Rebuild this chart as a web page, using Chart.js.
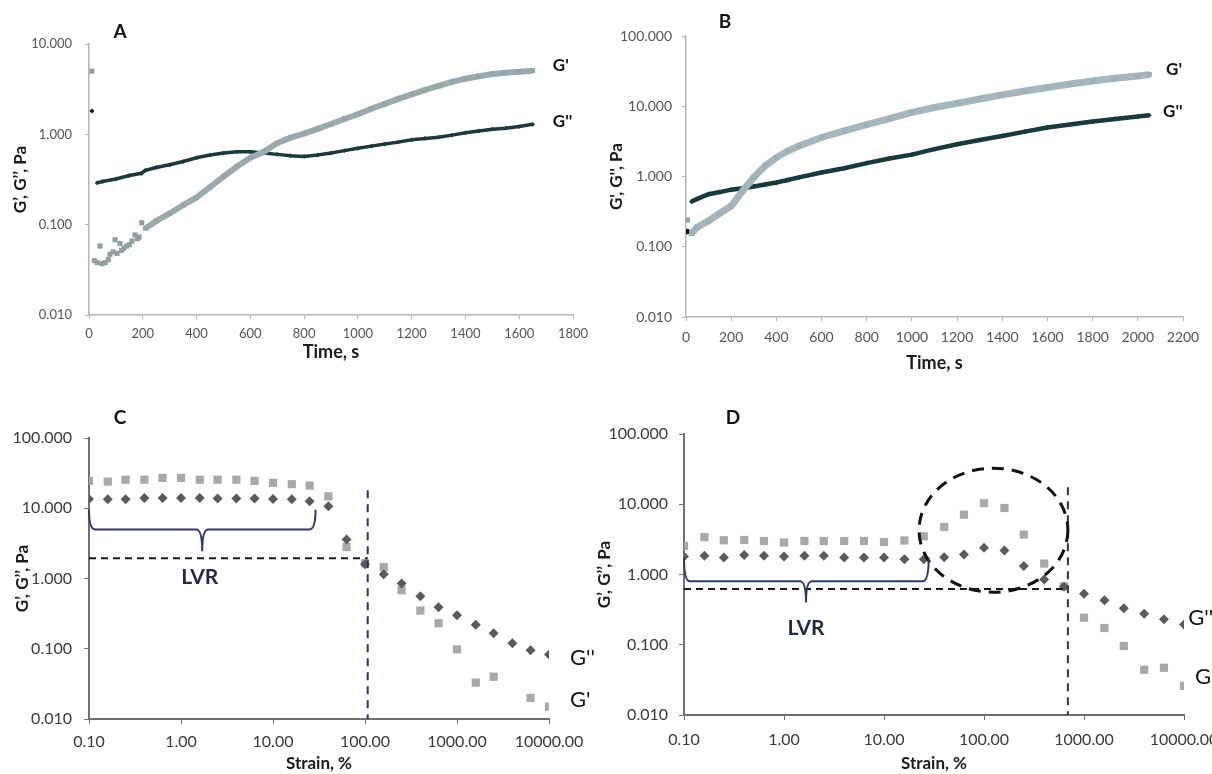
<!DOCTYPE html>
<html lang="en">
<head>
<meta charset="UTF-8">
<title>G', G'' rheology panels</title>
<script src="https://cdn.jsdelivr.net/npm/chart.js"></script>
<style>
  body { margin: 0; width: 1212px; height: 774px; overflow: hidden; background: #fff; position: relative; }
  .panel { position: absolute; height: 387px; }
</style>
</head>
<body>
<div class="panel" style="left:0;top:0;width:600px"><canvas id="chartA" width="600" height="387"></canvas></div>
<div class="panel" style="left:596px;top:0;width:616px"><canvas id="chartB" width="616" height="387"></canvas></div>
<div class="panel" style="left:0;top:387px;width:600px"><canvas id="chartC" width="600" height="387"></canvas></div>
<div class="panel" style="left:590px;top:387px;width:660px"><canvas id="chartD" width="660" height="387"></canvas></div>
<script>
// ---- panel A: time sweep ----
const timeA = [30, 50, 100, 150, 195, 210, 250, 300, 350, 400, 450, 500, 550, 600, 650, 700, 750, 800,
  850, 900, 950, 1000, 1050, 1100, 1150, 1200, 1250, 1300, 1350, 1400, 1450, 1500, 1550, 1600, 1650];
const lossA = [0.29, 0.30, 0.32, 0.35, 0.37, 0.40, 0.43, 0.46, 0.50, 0.55, 0.59, 0.62, 0.64, 0.64, 0.62, 0.60, 0.58, 0.57,
  0.59, 0.62, 0.66, 0.70, 0.74, 0.78, 0.82, 0.87, 0.90, 0.93, 0.98, 1.04, 1.09, 1.14, 1.17, 1.22, 1.29];
const timeStorA = [210, 250, 300, 350, 400, 450, 500, 550, 600, 650, 700, 750, 800, 850, 900, 950, 1000,
  1050, 1100, 1150, 1200, 1250, 1300, 1350, 1400, 1450, 1500, 1550, 1600, 1650];
const storA = [0.091, 0.11, 0.133, 0.165, 0.20, 0.26, 0.34, 0.44, 0.55, 0.64, 0.80, 0.92, 1.02, 1.15, 1.30, 1.48, 1.67,
  1.92, 2.17, 2.47, 2.77, 3.1, 3.43, 3.8, 4.13, 4.4, 4.65, 4.8, 4.93, 5.07];
const earlyTimeA = [11, 20, 30, 41, 48, 60, 72, 78, 90, 97, 104, 115, 121, 130, 140, 150, 160, 171, 180, 186, 196];
const earlyStorA = [5.0, 0.040, 0.038, 0.058, 0.037, 0.038, 0.041, 0.047, 0.050, 0.068, 0.048, 0.062, 0.052, 0.055,
  0.058, 0.060, 0.066, 0.077, 0.070, 0.073, 0.105];
const earlyTimeLossA = [11];
const earlyLossA = [1.81];
const yTicksA = [0.01, 0.1, 1, 10];

// ---- panel B: time sweep ----
const timeB = [25, 50, 100, 150, 200, 250, 300, 350, 400, 450, 500, 600, 700, 800, 900, 1000, 1100, 1200,
  1300, 1400, 1500, 1600, 1700, 1800, 1900, 2000, 2050];
const storB = [0.155, 0.19, 0.234, 0.30, 0.38, 0.62, 0.97, 1.42, 1.86, 2.3, 2.72, 3.59, 4.46, 5.49, 6.68, 8.2, 9.6, 11.0,
  12.7, 14.5, 16.5, 18.5, 20.7, 22.9, 25.0, 27.0, 28.2];
const lossB = [0.44, 0.48, 0.56, 0.60, 0.65, 0.68, 0.72, 0.77, 0.82, 0.89, 0.97, 1.14, 1.31, 1.55, 1.80, 2.05, 2.45, 2.88,
  3.3, 3.78, 4.35, 4.98, 5.5, 6.06, 6.6, 7.13, 7.45];
const earlyTimeB = [6];
const earlyStorB = [0.24];
const earlyLossB = [0.165];
const yTicksB = [0.01, 0.1, 1, 10, 100];

// ---- panels C and D: strain sweeps ----
const strain = [0.1, 0.16, 0.25, 0.4, 0.63, 1, 1.6, 2.5, 4, 6.3, 10, 16, 25, 40, 63, 100, 160, 250, 400, 630,
  1000, 1600, 2500, 4000, 6300, 10000];
const storC = [24.5, 24, 25.5, 25.5, 27, 27, 25.5, 25.5, 25.5, 24.5, 23, 22, 21, 14.8, 2.8, 1.65, 1.45, 0.68, 0.35, 0.23,
  0.098, 0.033, 0.040, null, 0.020, 0.015];
const lossC = [13.5, 13.4, 13.4, 14, 14, 14, 14, 13.8, 13.8, 13.8, 13.5, 13.4, 12.6, 10.7, 3.6, 1.6, 1.15, 0.85, 0.56, 0.39,
  0.30, 0.22, 0.166, 0.12, 0.095, 0.083];
const storD = [2.55, 3.4, 3.07, 3.1, 3.0, 2.85, 3.0, 3.0, 3.0, 3.0, 2.9, 3.05, 3.5, 4.75, 7.1, 10.4, 8.85, 3.7, 1.43, 0.68,
  0.243, 0.173, 0.096, 0.044, 0.047, 0.026];
const lossD = [1.8, 1.85, 1.75, 1.9, 1.85, 1.8, 1.85, 1.85, 1.75, 1.75, 1.75, 1.65, 1.65, 1.76, 1.92, 2.4, 2.2, 1.32, 0.85, 0.67,
  0.53, 0.43, 0.33, 0.277, 0.23, 0.195];
const yTicksCD = [0.01, 0.1, 1, 10, 100];
const xTicksCD = [0.1, 1, 10, 100, 1000, 10000];

const pts = (xs, ys) => xs.map((x, i) => ({ x: x, y: ys[i] }));
const FONT = 'Lato, "Open Sans", sans-serif';

// text, dashed guide lines, LVR brace and circle, drawn with the chart's own scales
function overlay(cfg) {
  return {
    id: 'overlay',
    afterDatasetsDraw(chart) {
      const ctx = chart.ctx, area = chart.chartArea;
      const px = v => chart.scales.x.getPixelForValue(v);
      const py = v => chart.scales.y.getPixelForValue(v);
      ctx.save();
      if (cfg.hLine) {
        ctx.setLineDash([7, 5]); ctx.lineWidth = 2; ctx.strokeStyle = '#1a1a1a';
        ctx.beginPath(); ctx.moveTo(px(cfg.hLine.x0), py(cfg.hLine.y)); ctx.lineTo(px(cfg.hLine.x1), py(cfg.hLine.y)); ctx.stroke();
      }
      if (cfg.vLine) {
        ctx.setLineDash([8, 6]); ctx.lineWidth = 2; ctx.strokeStyle = '#22365f';
        ctx.beginPath(); ctx.moveTo(px(cfg.vLine.x), py(cfg.vLine.y0)); ctx.lineTo(px(cfg.vLine.x), py(cfg.vLine.y1)); ctx.stroke();
      }
      if (cfg.circle) {
        const c = cfg.circle;
        const l = px(c.x0), r = px(c.x1), t = py(c.y1), b = py(c.y0);
        ctx.setLineDash([12, 8]); ctx.lineWidth = 3; ctx.strokeStyle = '#111';
        ctx.beginPath(); ctx.ellipse((l + r) / 2, (t + b) / 2, (r - l) / 2, (b - t) / 2, 0, 0, Math.PI * 2); ctx.stroke();
      }
      if (cfg.brace) {
        const br = cfg.brace;
        const x0 = px(br.x0), x1 = px(br.x1), yt = py(br.yTop), yb = py(br.yBar), tx = px(br.tipX), ty = py(br.tipY);
        const k = 6;
        ctx.setLineDash([]); ctx.lineWidth = 2; ctx.strokeStyle = '#2b3a6b';
        ctx.beginPath();
        ctx.moveTo(x0, yt);
        ctx.quadraticCurveTo(x0, yb, x0 + k, yb);
        ctx.lineTo(tx - k, yb);
        ctx.quadraticCurveTo(tx, yb, tx, ty);
        ctx.moveTo(tx, ty);
        ctx.quadraticCurveTo(tx, yb, tx + k, yb);
        ctx.lineTo(x1 - k, yb);
        ctx.quadraticCurveTo(x1, yb, x1, yt);
        ctx.stroke();
      }
      ctx.setLineDash([]);
      ctx.textBaseline = 'middle';
      (cfg.labels || []).forEach(lb => {
        ctx.font = lb.font; ctx.fillStyle = lb.color || '#111'; ctx.textAlign = lb.align || 'left';
        ctx.fillText(lb.text, px(lb.x), py(lb.y));
      });
      if (cfg.letter) {
        ctx.font = 'bold 19px ' + FONT; ctx.fillStyle = '#111'; ctx.textAlign = 'center';
        ctx.fillText(cfg.letter.text, area.left + cfg.letter.dx, area.top + cfg.letter.dy);
      }
      ctx.restore();
    }
  };
}

function axes(o) {
  const logTicks = (arr) => (s) => { s.ticks = arr.map(v => ({ value: v })); };
  return {
    x: {
      type: o.xType, min: o.xMin, max: o.xMax,
      afterBuildTicks: o.xTicks ? logTicks(o.xTicks) : undefined,
      afterFit: s => { s.height = o.xHeight; },
      border: { color: o.axisColor, width: o.axisWidth },
      grid: { drawOnChartArea: false, drawTicks: true, tickLength: o.tickLen, color: o.axisColor },
      ticks: {
        stepSize: o.xStep, autoSkip: false, maxRotation: 0, padding: o.xPad, color: o.tickColor,
        font: { family: FONT, size: o.tickSize },
        callback: o.xFmt
      },
      title: { display: true, text: o.xTitle, color: '#1a1a1a', font: { family: FONT, size: o.titleSize, weight: 'bold' },
        padding: { top: 0, bottom: o.xTitlePad } }
    },
    y: {
      type: 'logarithmic', min: 0.01, max: o.yMax,
      afterBuildTicks: logTicks(o.yTicks),
      afterFit: s => { s.width = o.yWidth; },
      border: { color: o.axisColor, width: o.axisWidth },
      grid: { drawOnChartArea: false, drawTicks: true, tickLength: o.tickLen, color: o.axisColor },
      ticks: { autoSkip: false, padding: o.yPad, color: o.tickColor, font: { family: FONT, size: o.tickSize },
        callback: v => Number(v).toFixed(3) },
      title: { display: true, text: o.yTitle, color: '#1a1a1a', font: { family: FONT, size: 17, weight: 'bold' },
        padding: { top: o.yTitlePad, bottom: 0 } }
    }
  };
}

function makeChart(id, datasets, scales, padding, ov) {
  return new Chart(document.getElementById(id), {
    type: 'scatter',
    data: { datasets: datasets },
    options: {
      responsive: false, animation: false, devicePixelRatio: 1, events: [],
      layout: { padding: padding, autoPadding: false },
      plugins: { legend: { display: false }, tooltip: { enabled: false } },
      scales: scales
    },
    plugins: [overlay(ov)]
  });
}

// A
makeChart('chartA', [
  { data: pts(timeStorA, storA), showLine: true, borderWidth: 6, borderColor: '#99abaf', backgroundColor: '#93a6aa',
    pointStyle: 'rect', pointRadius: 3.5, pointBorderWidth: 0, tension: 0 },
  { data: pts(earlyTimeA, earlyStorA), showLine: false, backgroundColor: '#8e9ea1', pointStyle: 'rect', pointRadius: 3.6, pointBorderWidth: 0 },
  { data: pts(timeA, lossA), showLine: true, borderWidth: 3.5, borderColor: '#1b3a3d', backgroundColor: '#1b3a3d',
    pointStyle: 'rectRot', pointRadius: 2.4, pointBorderWidth: 0, tension: 0 },
  { data: pts(earlyTimeLossA, earlyLossA), showLine: false, backgroundColor: '#111', pointStyle: 'rectRot', pointRadius: 2.5, pointBorderWidth: 0 }
], axes({
  xType: 'linear', xMin: 0, xMax: 1800, xStep: 200, xHeight: 72, xPad: 7, xTitle: 'Time, s', xTitlePad: 24,
  yMax: 10, yTicks: yTicksA, yWidth: 89, yPad: 13, yTitle: 'G\u2019, G\u2019\u2019, Pa', yTitlePad: 10,
  axisColor: '#b5b5b5', axisWidth: 1.5, tickLen: 4, tickColor: '#555', tickSize: 13, titleSize: 18
}), { left: 0, right: 27, top: 44, bottom: 0 }, {
  letter: { text: 'A', dx: 31, dy: -12 },
  labels: [
    { text: "G'", x: 1725, y: 5.8, font: 'bold 17px ' + FONT },
    { text: "G''", x: 1725, y: 1.37, font: 'bold 17px ' + FONT }
  ]
});

// B
makeChart('chartB', [
  { data: pts(timeB, storB), showLine: true, borderWidth: 7, borderColor: '#a3b7bd', backgroundColor: '#9db2b8',
    pointStyle: 'rect', pointRadius: 3.8, pointBorderWidth: 0, tension: 0 },
  { data: pts(earlyTimeB, earlyStorB), showLine: false, backgroundColor: '#8fa2a6', pointStyle: 'rect', pointRadius: 3.6, pointBorderWidth: 0 },
  { data: pts(timeB, lossB), showLine: true, borderWidth: 4.5, borderColor: '#163a3e', backgroundColor: '#163a3e',
    pointStyle: 'rectRot', pointRadius: 2.6, pointBorderWidth: 0, tension: 0 },
  { data: pts(earlyTimeB, earlyLossB), showLine: false, backgroundColor: '#111', pointStyle: 'circle', pointRadius: 2.8, pointBorderWidth: 0 }
], axes({
  xType: 'linear', xMin: 0, xMax: 2200, xStep: 200, xHeight: 70, xPad: 8, xTitle: 'Time, s', xTitlePad: 13,
  yMax: 100, yTicks: yTicksB, yWidth: 90, yPad: 10, yTitle: "G', G'', Pa", yTitlePad: 10,
  axisColor: '#b5b5b5', axisWidth: 1.5, tickLen: 4, tickColor: '#555', tickSize: 14, titleSize: 18
}), { left: 0, right: 29, top: 36, bottom: 0 }, {
  letter: { text: 'B', dx: 39, dy: -14 },
  labels: [
    { text: "G'", x: 2125, y: 33.6, font: 'bold 17px ' + FONT },
    { text: "G''", x: 2112, y: 8.5, font: 'bold 17px ' + FONT }
  ]
});

const strainAxes = (o) => axes(Object.assign({
  xType: 'logarithmic', xMin: 0.1, xMax: 10000, xTicks: xTicksCD, xFmt: v => Number(v).toFixed(2),
  xTitle: 'Strain, %', xTitlePad: 0, yMax: 100, yTicks: yTicksCD, yTitle: 'G\u2019, G\u2019\u2019, Pa',
  axisColor: '#707070', axisWidth: 2, tickLen: 5, tickColor: '#3a3a3a', tickSize: 16, titleSize: 17
}, o));

const strainSets = (stor, loss) => [
  { data: pts(strain, loss), showLine: false, backgroundColor: '#5a5a5a', pointStyle: 'rectRot', pointRadius: 5, pointBorderWidth: 0 },
  { data: pts(strain, stor), showLine: false, backgroundColor: '#a8a8a8', pointStyle: 'rect', pointRadius: 5.8, pointBorderWidth: 0 }
];

// C
makeChart('chartC', strainSets(storC, lossC),
  strainAxes({ xHeight: 55, xPad: 8, yWidth: 89, yPad: 12, yTitlePad: 12 }),
  { left: 0, right: 51, top: 51, bottom: 0 }, {
    letter: { text: 'C', dx: 31, dy: -20 },
    hLine: { y: 1.95, x0: 0.1, x1: 107 },
    vLine: { x: 107, y0: 18, y1: 0.01 },
    brace: { x0: 0.1, x1: 29, yTop: 9.5, yBar: 5.0, tipX: 1.7, tipY: 2.45 },
    labels: [
      { text: 'LVR', x: 1.6, y: 1.04, font: 'bold 21px ' + FONT, color: '#1e2a46', align: 'center' },
      { text: "G''", x: 16900, y: 0.073, font: '22px ' + FONT },
      { text: "G'", x: 16900, y: 0.0184, font: '22px ' + FONT }
    ]
  });

// D
makeChart('chartD', strainSets(storD, lossD),
  strainAxes({ xHeight: 59, xPad: 10, yWidth: 94, yPad: 11, yTitlePad: 4 }),
  { left: 0, right: 66, top: 47, bottom: 0 }, {
    letter: { text: 'D', dx: 49, dy: -16 },
    hLine: { y: 0.62, x0: 0.1, x1: 690 },
    vLine: { x: 690, y0: 17.5, y1: 0.01 },
    circle: { x0: 22.4, x1: 690, y0: 0.56, y1: 32.6 },
    brace: { x0: 0.1, x1: 28, yTop: 1.75, yBar: 0.8, tipX: 1.66, tipY: 0.40 },
    labels: [
      { text: 'LVR', x: 1.66, y: 0.171, font: 'bold 21px ' + FONT, color: '#1e2a46', align: 'center' },
      { text: "G''", x: 11000, y: 0.245, font: '22px ' + FONT },
      { text: "G'", x: 12900, y: 0.0343, font: '22px ' + FONT }
    ]
  });
</script>
</body>
</html>
